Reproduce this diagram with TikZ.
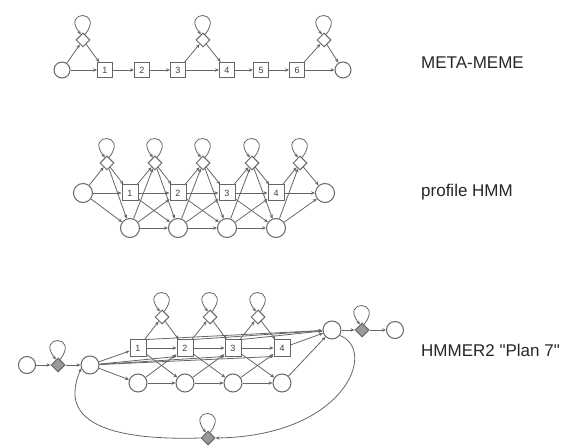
\documentclass[tikz,border=0pt]{standalone}
\usepackage{fontspec}
\setmainfont{Liberation Sans}[Ligatures=TeXOff]
\usetikzlibrary{shapes.geometric,arrows.meta}
\newcommand\selfloop[1]{\draw[arr] (#1.70) .. controls +(20,-25) and +(-20,-25) .. (#1.110);}
\begin{document}
\begin{tikzpicture}[x=1pt,y=-1pt,
  st/.style={draw=black!60, line width=1pt, fill=white, inner sep=0pt},
  circ/.style={st, circle, minimum size=#1},
  circ/.default=19pt,
  mbox/.style={st, rectangle, minimum size=#1, font=\fontsize{9}{9}\selectfont, text=black!75},
  mbox/.default=16pt,
  ins/.style={st, diamond, minimum width=14pt, minimum height=14pt},
  gins/.style={ins, fill=black!40},
  arr/.style={draw=black!60, line width=0.8pt, -{Stealth[length=4pt,width=3.4pt]}},
  lbl/.style={font=\fontsize{17}{17}\selectfont, text=black!85, anchor=west, inner sep=0pt},
]
\useasboundingbox (0,0) rectangle (565,446);

% ---------------- META-MEME ----------------
\node[circ=16pt] (ma) at (62,70) {};
\node[circ=16pt] (mz) at (343,70) {};
\foreach \i/\x in {1/105,2/142,3/178,4/227,5/261,6/297}
  \node[mbox=15pt] (mm\i) at (\x,70) {\i};
\node[ins] (mi1) at (83,40) {};
\node[ins] (mi2) at (203,40) {};
\node[ins] (mi3) at (324,40) {};
\draw[arr] (ma) -- (mi1);
\draw[arr] (mi1) -- (mm1);
\draw[arr] (ma) -- (mm1);
\draw[arr] (mm1) -- (mm2);
\draw[arr] (mm2) -- (mm3);
\draw[arr] (mm3) -- (mi2);
\draw[arr] (mi2) -- (mm4);
\draw[arr] (mm3) -- (mm4);
\draw[arr] (mm4) -- (mm5);
\draw[arr] (mm5) -- (mm6);
\draw[arr] (mm6) -- (mi3);
\draw[arr] (mi3) -- (mz);
\draw[arr] (mm6) -- (mz);
\foreach \n in {mi1,mi2,mi3} {\selfloop{\n}}
\node[lbl] (t1) at (421,63) {META-MEME};

% ---------------- profile HMM ----------------
\node[circ] (pb) at (83,193) {};
\node[circ] (pe) at (325,193) {};
\foreach \i/\x in {1/130,2/178,3/227,4/276} {
  \node[mbox] (pm\i) at (\x,193) {\i};
  \node[circ] (pd\i) at (\x,228) {};
}
\foreach \i/\x in {0/107,1/155,2/203,3/252,4/300}
  \node[ins] (pi\i) at (\x,163) {};
\draw[arr] (pb) -- (pi0);
\draw[arr] (pb) -- (pm1);
\draw[arr] (pb) -- (pd1);
\draw[arr] (pi0) -- (pm1);
\draw[arr] (pi0) -- (pd1);
\foreach \i/\j in {1/2,2/3,3/4} {
  \draw[arr] (pm\i) -- (pm\j);
  \draw[arr] (pm\i) -- (pi\i);
  \draw[arr] (pm\i) -- (pd\j);
  \draw[arr] (pi\i) -- (pm\j);
  \draw[arr] (pi\i) -- (pd\j);
  \draw[arr] (pd\i) -- (pd\j);
  \draw[arr] (pd\i) -- (pm\j);
  \draw[arr] (pd\i) -- (pi\i);
}
\draw[arr] (pm4) -- (pi4);
\draw[arr] (pd4) -- (pi4);
\draw[arr] (pm4) -- (pe);
\draw[arr] (pi4) -- (pe);
\draw[arr] (pd4) -- (pe);
\foreach \i in {0,...,4} {\selfloop{pi\i}}
\node[lbl] (t2) at (421,192) {profile HMM};

% ---------------- HMMER2 Plan 7 ----------------
\node[circ=17pt] (hs) at (27,365) {};
\node[gins] (hn) at (58,365) {};
\node[circ=18pt] (hb) at (90,365) {};
\foreach \i/\x in {1/138,2/185,3/233,4/282} {
  \node[mbox] (hm\i) at (\x,348) {\i};
  \node[circ=18pt] (hd\i) at (\x,383) {};
}
\foreach \i/\x in {1/162,2/210,3/258}
  \node[ins] (hi\i) at (\x,317) {};
\node[circ=18pt] (he) at (332,330) {};
\node[gins] (hc) at (362,330) {};
\node[circ=17pt] (ht) at (395,330) {};
\node[gins] (hj) at (208,438) {};

\draw[arr] (hs) -- (hn);
\draw[arr] (hn) -- (hb);
\draw[arr] (hb) -- (hm1);
\draw[arr] (hb) -- (hd1);
\foreach \i in {2,3,4} \draw[arr] (hb) -- (hm\i.south west);
\foreach \i/\j in {1/2,2/3,3/4} {
  \draw[arr] (hm\i) -- (hm\j);
  \draw[arr] (hm\i) -- (hi\i);
  \draw[arr] (hi\i) -- (hm\j);
  \draw[arr] (hm\i) -- (hd\j);
  \draw[arr] (hd\i) -- (hm\j);
  \draw[arr] (hd\i) -- (hd\j);
  \draw[arr] (hm\i.north east) -- (he);
}
\draw[arr] (hm4) -- (he);
\draw[arr] (hd4) -- (he);
\draw[arr] (he) -- (hc);
\draw[arr] (hc) -- (ht);
\draw[arr] (he.-35) .. controls (378,350) and (345,436) .. (hj.east);
\draw[arr] (hj.west) .. controls (60,442) and (70,395) .. (hb.200);
\foreach \n in {hn,hi1,hi2,hi3,hc,hj} {\selfloop{\n}}
\node[lbl] (t3) at (421,350) {HMMER2 "Plan 7"};
\end{tikzpicture}
\end{document}
